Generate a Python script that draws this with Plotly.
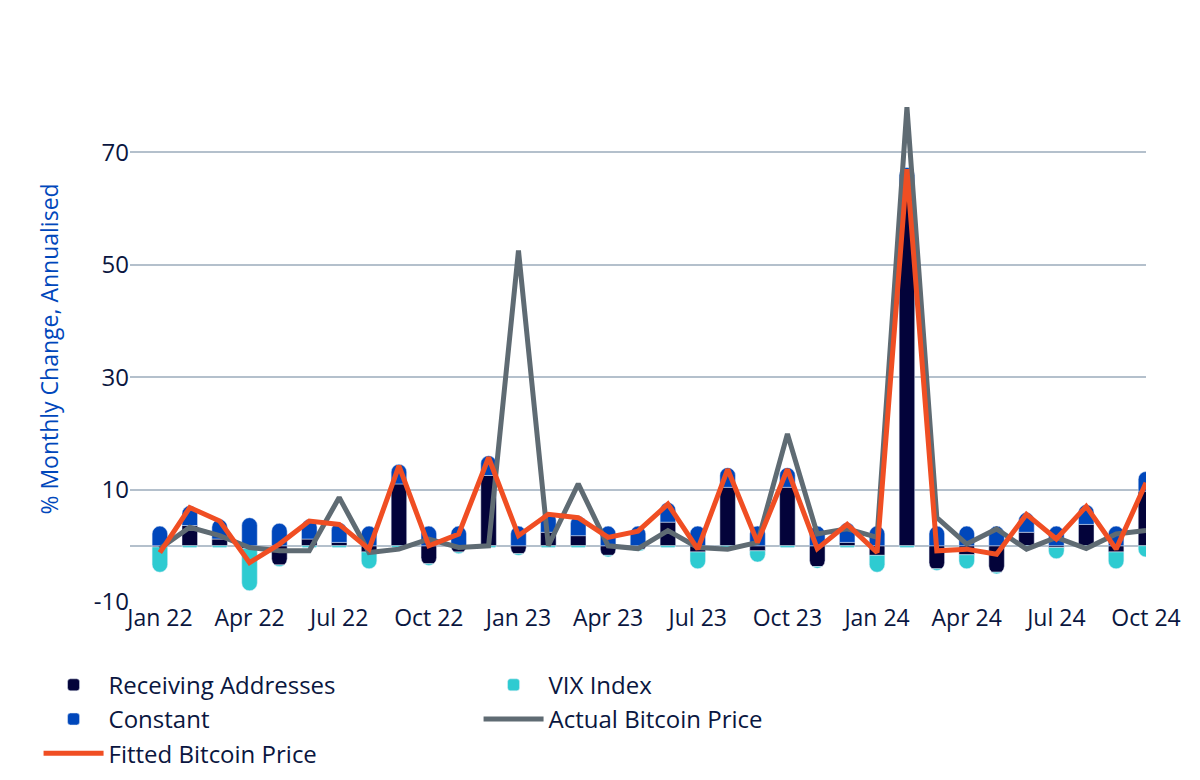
import plotly.graph_objects as go

months = ["Jan 22","Feb 22","Mar 22","Apr 22","May 22","Jun 22","Jul 22","Aug 22","Sep 22","Oct 22","Nov 22","Dec 22",
          "Jan 23","Feb 23","Mar 23","Apr 23","May 23","Jun 23","Jul 23","Aug 23","Sep 23","Oct 23","Nov 23","Dec 23",
          "Jan 24","Feb 24","Mar 24","Apr 24","May 24","Jun 24","Jul 24","Aug 24","Sep 24","Oct 24"]
fitted = [-1.2,6.8,4.4,-3.0,0.3,4.4,3.8,-0.6,14.2,0.0,2.1,15.7,1.8,5.6,5.0,1.5,2.6,7.4,-0.6,13.6,0.6,13.6,-0.5,3.8,
          -1.2,67.0,-0.9,-0.6,-1.5,5.6,1.2,7.0,-0.6,11.2]
actual = [-0.5,3.3,1.8,-0.3,-0.9,-0.9,8.6,-1.2,-0.6,1.2,-0.3,0.0,52.5,0.0,11.0,0.0,-0.5,2.7,-0.3,-0.6,0.6,19.9,2.1,3.0,
          1.5,78.0,5.0,0.3,3.0,-0.6,1.5,-0.5,2.1,2.7]
vix = [-4.5,-0.3,-0.3,-7.5,-0.3,-0.3,-0.3,-3.0,-0.3,-0.3,-0.3,-0.3,-0.3,-0.3,-0.3,-0.3,-0.3,-0.3,-3.0,-0.3,-2.0,-0.3,-0.3,-0.3,
       -3.0,-0.3,-0.3,-2.5,-0.3,-0.3,-2.0,-0.3,-3.0,-2.0]
constant = [3.5,3.5,3.5,5.0,4.0,3.5,3.5,3.5,3.5,3.5,3.5,3.5,3.5,3.5,3.5,3.5,3.5,3.5,3.5,3.5,3.5,3.5,3.5,3.5,
            3.5,3.5,3.5,3.5,3.5,3.5,3.5,3.5,3.5,3.5]
receiving = [round(f - v - c, 2) for f, v, c in zip(fitted, vix, constant)]
y_ticks = [-10, 10, 30, 50, 70]

x = list(range(len(months)))
tick_idx = list(range(0, len(months), 3))

fig = go.Figure()
fig.add_bar(x=x, y=receiving, name="Receiving Addresses", marker=dict(color="#03033a", cornerradius=8), width=0.52)
fig.add_bar(x=x, y=vix, name="VIX Index", marker=dict(color="#2ecbd1", cornerradius=8), width=0.52)
fig.add_bar(x=x, y=constant, name="Constant", marker=dict(color="#0047bb", cornerradius=8), width=0.52)
fig.add_scatter(x=x, y=actual, name="Actual Bitcoin Price", mode="lines", line=dict(color="#5f6b73", width=5))
fig.add_scatter(x=x, y=fitted, name="Fitted Bitcoin Price", mode="lines", line=dict(color="#f04e23", width=5))

fig.update_layout(
    width=1200, height=780, barmode="relative", plot_bgcolor="white", paper_bgcolor="white",
    margin=dict(l=122, r=62, t=88, b=179),
    font=dict(family="Open Sans", color="#0a1640"),
    xaxis=dict(range=[-1, 33], tickvals=[x[i] for i in tick_idx], ticktext=[months[i] for i in tick_idx],
               showgrid=False, tickfont=dict(size=23), zeroline=False, ticks=""),
    yaxis=dict(range=[-10, 80], tickvals=y_ticks, ticktext=[str(v) for v in y_ticks], showgrid=True,
               gridcolor="#b4c0cc", gridwidth=1.5,
               tickfont=dict(size=24), zeroline=True, zerolinecolor="#b4c0cc", zerolinewidth=1.5,
               title=dict(text="% Monthly Change, Annualised", font=dict(size=23, color="#0047bb"), standoff=28)),
    legend=dict(orientation="h", x=-0.09, xref="paper", xanchor="left", y=-0.12, yanchor="top",
                entrywidth=365, font=dict(size=24, color="#0a1640"), itemwidth=60, traceorder="normal"),
)
fig.write_html("out.html")
